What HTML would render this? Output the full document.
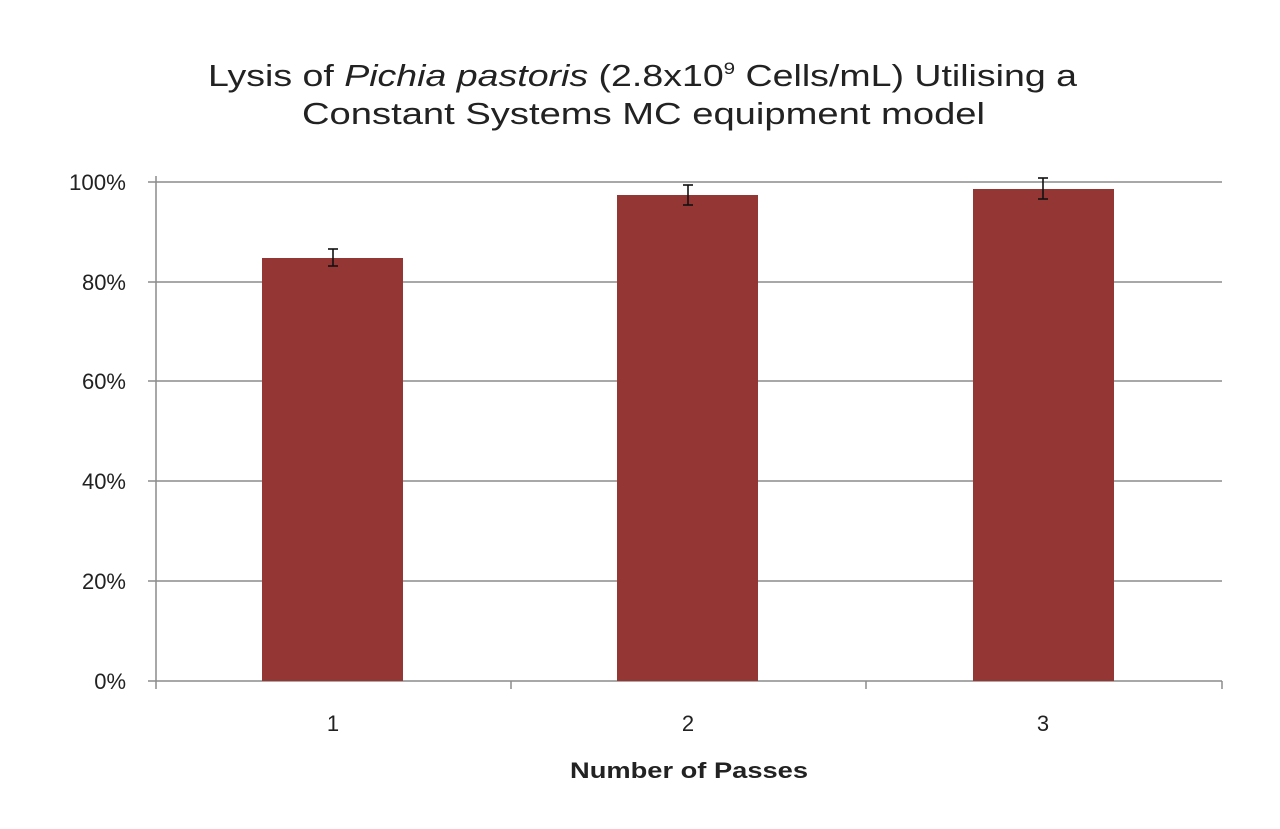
<!DOCTYPE html>
<html><head><meta charset="utf-8"><style>
html,body{margin:0;padding:0;background:#fff;}
svg{display:block;}
text{font-family:"Liberation Sans","DejaVu Sans",sans-serif;fill:#222;}
</style></head><body>
<svg width="1280" height="829" viewBox="0 0 1280 829" xmlns="http://www.w3.org/2000/svg">
<rect width="1280" height="829" fill="#fff"/>
<text x="208" y="86" font-size="31" textLength="869" lengthAdjust="spacingAndGlyphs">Lysis of <tspan font-style="italic">Pichia pastoris</tspan> (2.8x10<tspan font-size="17" dy="-12">9</tspan><tspan dy="12"> Cells/mL) Utilising a</tspan></text>
<text x="302" y="124" font-size="31" textLength="683" lengthAdjust="spacingAndGlyphs">Constant Systems MC equipment model</text>
<g stroke="#8c8c8c" stroke-width="1.5">
<line x1="148" y1="182" x2="1222" y2="182"/>
<line x1="148" y1="282" x2="1222" y2="282"/>
<line x1="148" y1="381" x2="1222" y2="381"/>
<line x1="148" y1="481" x2="1222" y2="481"/>
<line x1="148" y1="581" x2="1222" y2="581"/>
<line x1="148" y1="681" x2="1222" y2="681"/>
<line x1="156" y1="176" x2="156" y2="689"/>
<line x1="511" y1="681" x2="511" y2="689"/>
<line x1="866" y1="681" x2="866" y2="689"/>
<line x1="1222" y1="681" x2="1222" y2="689"/>
</g>
<g fill="#943634">
<rect x="262" y="258" width="141" height="423"/>
<rect x="617" y="195" width="141" height="486"/>
<rect x="973" y="189" width="141" height="492"/>
</g>
<g stroke="#111" stroke-width="1.6">
<line x1="333" y1="249" x2="333" y2="266"/><line x1="328" y1="249" x2="338" y2="249"/><line x1="328" y1="266" x2="338" y2="266"/>
<line x1="688" y1="185" x2="688" y2="205"/><line x1="683" y1="185" x2="693" y2="185"/><line x1="683" y1="205" x2="693" y2="205"/>
<line x1="1043" y1="178" x2="1043" y2="199"/><line x1="1038" y1="178" x2="1048" y2="178"/><line x1="1038" y1="199" x2="1048" y2="199"/>
</g>
<g font-size="22" text-anchor="end">
<text x="126" y="190" textLength="57" lengthAdjust="spacingAndGlyphs">100%</text>
<text x="126" y="290">80%</text>
<text x="126" y="389">60%</text>
<text x="126" y="489">40%</text>
<text x="126" y="589">20%</text>
<text x="126" y="689">0%</text>
</g>
<g font-size="22" text-anchor="middle">
<text x="333" y="731">1</text>
<text x="688" y="731">2</text>
<text x="1043" y="731">3</text>
</g>
<text x="570" y="778" font-size="22" font-weight="bold" textLength="238" lengthAdjust="spacingAndGlyphs">Number of Passes</text>
</svg>
</body></html>
